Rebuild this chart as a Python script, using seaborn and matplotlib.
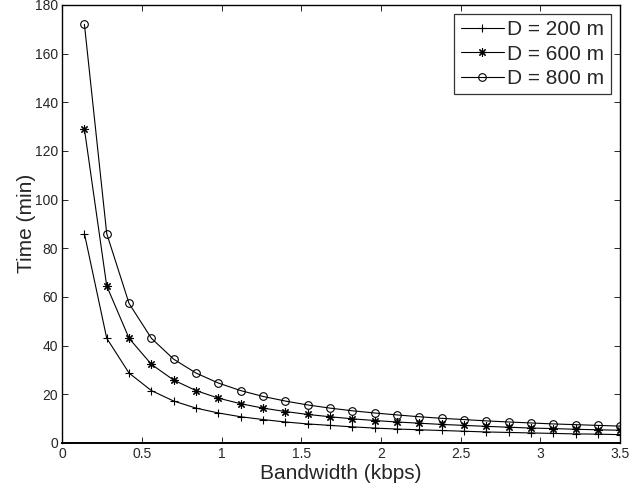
import matplotlib
matplotlib.use("Agg")
import matplotlib.pyplot as plt
import seaborn as sns
import pandas as pd

# values
bandwidth = [0.14, 0.28, 0.42, 0.56, 0.70, 0.84, 0.98, 1.12, 1.26, 1.40, 1.54, 1.68, 1.82,
             1.96, 2.10, 2.24, 2.38, 2.52, 2.66, 2.80, 2.94, 3.08, 3.22, 3.36, 3.50]
time_200 = [86, 43, 28.7, 21.5, 17.2, 14.3, 12.3, 10.75, 9.6, 8.6, 7.8, 7.2, 6.6,
            6.1, 5.7, 5.4, 5.1, 4.8, 4.5, 4.3, 4.1, 3.9, 3.7, 3.6, 3.4]
time_600 = [129, 64.5, 43, 32.3, 25.8, 21.5, 18.4, 16.1, 14.3, 12.9, 11.7, 10.75, 9.9,
            9.2, 8.6, 8.1, 7.6, 7.2, 6.8, 6.45, 6.1, 5.9, 5.6, 5.4, 5.2]
time_800 = [172, 86, 57.3, 43, 34.4, 28.7, 24.6, 21.5, 19.1, 17.2, 15.6, 14.3, 13.2,
            12.3, 11.5, 10.75, 10.1, 9.6, 9.05, 8.6, 8.2, 7.8, 7.5, 7.2, 6.9]
labels = ["D = 200 m", "D = 600 m", "D = 800 m"]
markers = ["+", (8, 2, 0), "o"]  # matlab-style asterisk for the middle one

sns.set_style("white")
plt.rcParams["font.family"] = ["Liberation Sans", "DejaVu Sans"]

fig = plt.figure(figsize=(6.4, 4.83), dpi=100)
ax = fig.add_axes([0.097, 0.083, 0.872, 0.907])

for vals, lab, mk in zip([time_200, time_600, time_800], labels, markers):
    df = pd.DataFrame({"x": bandwidth, "y": vals})
    sns.lineplot(data=df, x="x", y="y", ax=ax, color="black", lw=0.8,
                 marker=mk, markersize=6 if mk != "o" else 5.5,
                 markerfacecolor="none", markeredgecolor="black",
                 markeredgewidth=0.8, label=lab)

ax.set_xlim(0, 3.5)
ax.set_ylim(0, 180)
ax.set_xticks([0, 0.5, 1, 1.5, 2, 2.5, 3, 3.5])
ax.set_xticklabels(["0", "0.5", "1", "1.5", "2", "2.5", "3", "3.5"])
ax.set_yticks(range(0, 181, 20))
ax.tick_params(direction="in", length=4, width=0.7, labelsize=10,
               top=True, right=True, bottom=True, left=True, pad=3)
for s in ax.spines.values():
    s.set_color("black")
    s.set_linewidth(1.0)
ax.spines["bottom"].set_linewidth(1.4)
ax.set_xlabel("Bandwidth (kbps)", fontsize=15, labelpad=2)
ax.set_ylabel("Time (min)", fontsize=15, labelpad=-1)

leg = ax.legend(loc="upper right", fontsize=15, frameon=True, fancybox=False,
                edgecolor="black", borderaxespad=0.45, handlelength=2.1,
                handletextpad=0.15, labelspacing=0.25, borderpad=0.3)
leg.get_frame().set_linewidth(0.9)

fig.savefig("out.png", dpi=100)
